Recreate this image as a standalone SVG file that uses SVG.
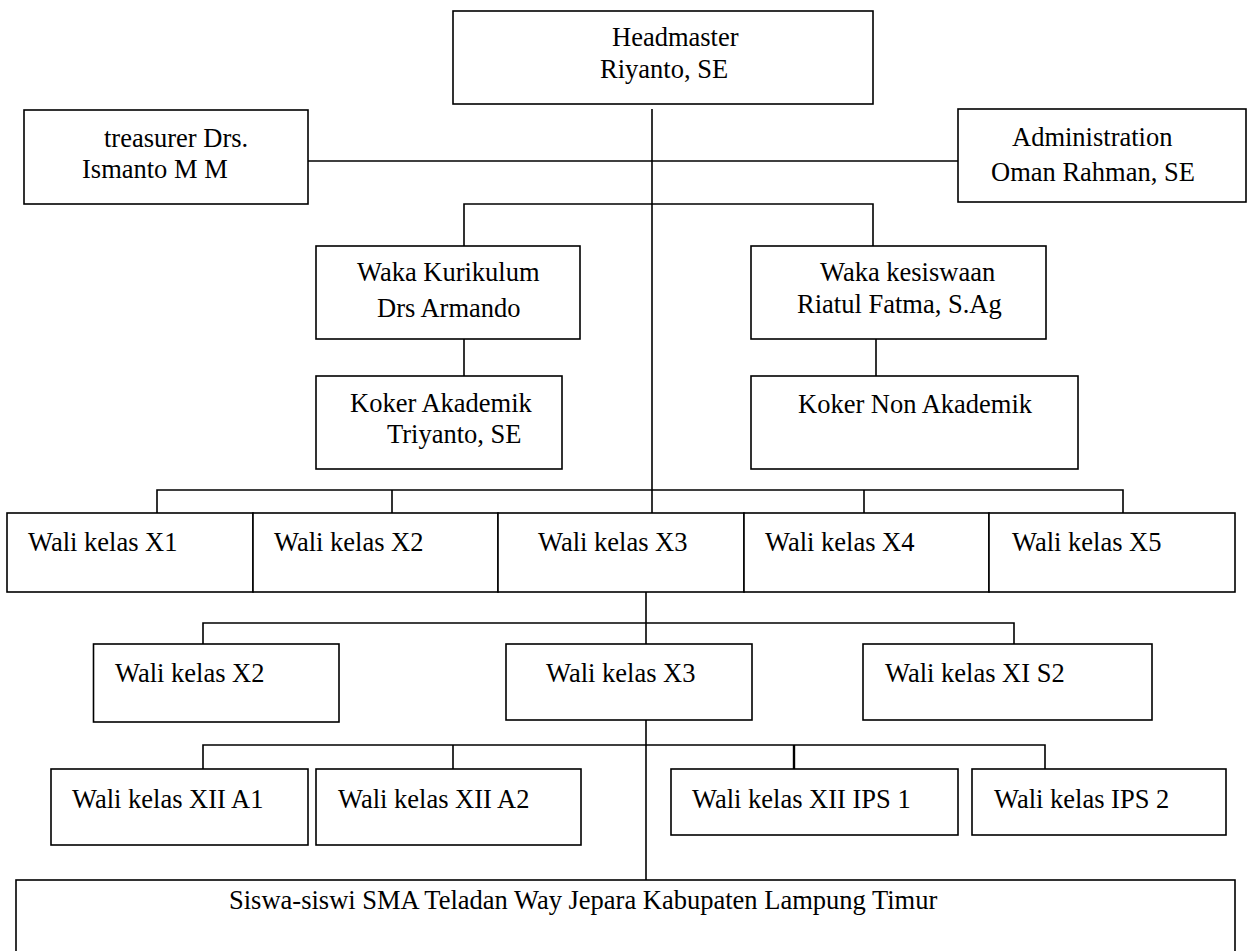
<svg xmlns="http://www.w3.org/2000/svg" width="1248" height="951" viewBox="0 0 1248 951">
<defs>
<style>
rect{fill:#fff;stroke:#000;stroke-width:1.6}
#connectors path{fill:none;stroke:#000;stroke-width:1.6}
</style>
</defs>
<rect x="0" y="0" width="1248" height="951" style="stroke:none"/>
<g id="connectors">
<path d="M652 109V513"/>
<path d="M308 161H958"/>
<path d="M464 246V204H873V246"/>
<path d="M464 339V376"/>
<path d="M876 339V376"/>
<path d="M157 513V490H1123V513M392 490V513M864 490V513"/>
<path d="M646 592V644"/>
<path d="M203 644V623H1014V644"/>
<path d="M646 720V880"/>
<path d="M203 769V745H1045V769M453 745V769M1045 745V769"/>
<path d="M794 745V769" style="stroke-width:2.4"/>
</g>
<g id="headmaster"><rect x="453" y="11" width="420" height="93"/><text font-family="Liberation Serif" font-size="26.5" x="612" y="46">Headmaster</text><text font-family="Liberation Serif" font-size="26.5" x="600" y="78">Riyanto, SE</text></g>
<g id="treasurer"><rect x="24" y="110" width="284" height="94"/><text font-family="Liberation Serif" font-size="26.5" x="104" y="147">treasurer Drs.</text><text font-family="Liberation Serif" font-size="26.5" x="82" y="178">Ismanto M M</text></g>
<g id="administration"><rect x="958" y="109" width="288" height="93"/><text font-family="Liberation Serif" font-size="26.5" x="1012" y="146">Administration</text><text font-family="Liberation Serif" font-size="26.5" x="991" y="181">Oman Rahman, SE</text></g>
<g id="waka-kurikulum"><rect x="316" y="246" width="264" height="93"/><text font-family="Liberation Serif" font-size="26.5" x="357" y="281">Waka Kurikulum</text><text font-family="Liberation Serif" font-size="26.5" x="377" y="317">Drs Armando</text></g>
<g id="koker-akademik"><rect x="316" y="376" width="246" height="93"/><text font-family="Liberation Serif" font-size="26.5" x="350" y="412">Koker Akademik</text><text font-family="Liberation Serif" font-size="26.5" x="387" y="443">Triyanto, SE</text></g>
<g id="waka-kesiswaan"><rect x="751" y="246" width="295" height="93"/><text font-family="Liberation Serif" font-size="26.5" x="820" y="281">Waka kesiswaan</text><text font-family="Liberation Serif" font-size="26.5" x="797" y="313">Riatul Fatma, S.Ag</text></g>
<g id="koker-non-akademik"><rect x="751" y="376" width="327" height="93"/><text font-family="Liberation Serif" font-size="26.5" x="798" y="413">Koker Non Akademik</text></g>
<g id="x1"><rect x="7" y="513" width="246" height="79"/><text font-family="Liberation Serif" font-size="26.5" x="28" y="551">Wali kelas X1</text></g>
<g id="x2"><rect x="253" y="513" width="245" height="79"/><text font-family="Liberation Serif" font-size="26.5" x="274" y="551">Wali kelas X2</text></g>
<g id="x3"><rect x="498" y="513" width="246" height="79"/><text font-family="Liberation Serif" font-size="26.5" x="538" y="551">Wali kelas X3</text></g>
<g id="x4"><rect x="744" y="513" width="245" height="79"/><text font-family="Liberation Serif" font-size="26.5" x="765" y="551">Wali kelas X4</text></g>
<g id="x5"><rect x="989" y="513" width="246" height="79"/><text font-family="Liberation Serif" font-size="26.5" x="1012" y="551">Wali kelas X5</text></g>
<g id="r2-x2"><rect x="93.5" y="644" width="245.5" height="78"/><text font-family="Liberation Serif" font-size="26.5" x="115" y="682">Wali kelas X2</text></g>
<g id="r2-x3"><rect x="506" y="644" width="246" height="76"/><text font-family="Liberation Serif" font-size="26.5" x="546" y="682">Wali kelas X3</text></g>
<g id="r2-xis2"><rect x="863" y="644" width="289" height="76"/><text font-family="Liberation Serif" font-size="26.5" x="885" y="682">Wali kelas XI S2</text></g>
<g id="xii-a1"><rect x="51" y="769" width="257" height="76"/><text font-family="Liberation Serif" font-size="26.5" x="72" y="808">Wali kelas XII A1</text></g>
<g id="xii-a2"><rect x="316" y="769" width="265" height="76"/><text font-family="Liberation Serif" font-size="26.5" x="338" y="808">Wali kelas XII A2</text></g>
<g id="xii-ips1"><rect x="671" y="769" width="287" height="66"/><text font-family="Liberation Serif" font-size="26.5" x="692" y="808">Wali kelas XII IPS 1</text></g>
<g id="ips2"><rect x="972" y="769" width="254" height="66"/><text font-family="Liberation Serif" font-size="26.5" x="994" y="808">Wali kelas IPS 2</text></g>
<g id="siswa"><rect x="16" y="880" width="1219" height="90"/><text font-family="Liberation Serif" font-size="26.5" x="229" y="909">Siswa-siswi SMA Teladan Way Jepara Kabupaten Lampung Timur</text></g>
</svg>
